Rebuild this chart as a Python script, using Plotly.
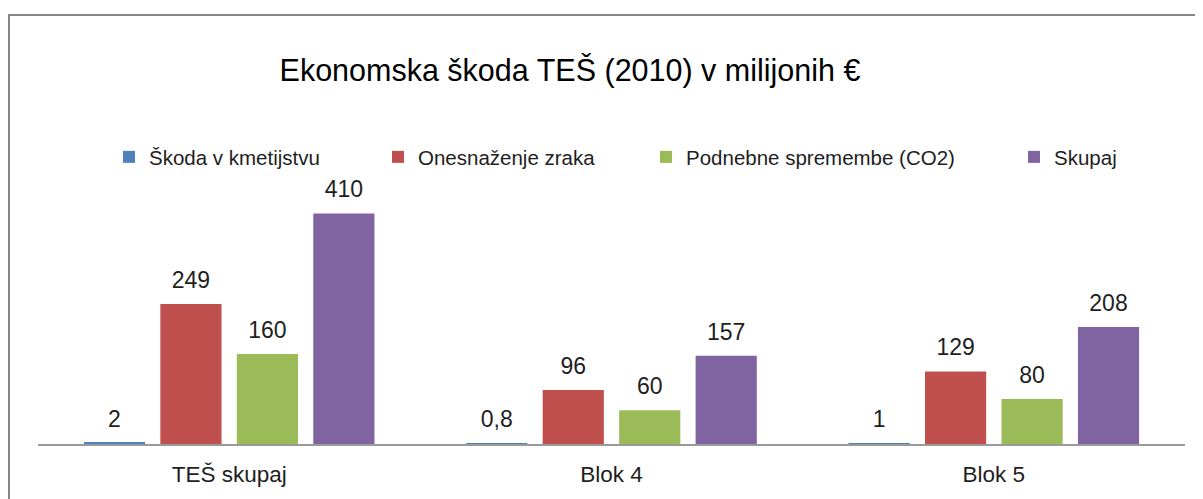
import plotly.graph_objects as go

categories = ["TEŠ skupaj", "Blok 4", "Blok 5"]
series_names = ["Škoda v kmetijstvu", "Onesnaženje zraka", "Podnebne spremembe (CO2)", "Skupaj"]
skoda_kmetijstvo = [2, 0.8, 1]
onesnazenje_zraka = [249, 96, 129]
podnebne_spremembe = [160, 60, 80]
skupaj = [410, 157, 208]
series_values = [skoda_kmetijstvo, onesnazenje_zraka, podnebne_spremembe, skupaj]
colors = ["#4F81BD", "#C0504D", "#9BBB59", "#8064A2"]
title_text = "Ekonomska škoda TEŠ (2010) v milijonih €"

FONT = "Liberation Sans, Arial, sans-serif"
TXT = "#1e1e1e"

def fmt(v):
    return ("%g" % v).replace(".", ",")

# figure geometry (pixels); the page body adds an 8px offset
W, H = 1195, 491
ML, MR, MT, MB = 30, 18, 155, 53
pw = W - ML - MR
ph = H - MT - MB
base_y = H - MB

legend_px = [101, 370, 638, 1006]  # left edges of legend boxes

fig = go.Figure()
for i, (name, vals, col) in enumerate(zip(series_names, series_values, colors)):
    lg = "legend" if i == 0 else f"legend{i+1}"
    fig.add_trace(go.Bar(
        x=categories, y=vals, name=name,
        marker=dict(color=col, line=dict(width=0)),
        offsetgroup=str(i), legend=lg,
        hoverinfo="skip",
    ))
for i, (name, vals, col) in enumerate(zip(series_names, series_values, colors)):
    fig.add_trace(go.Scatter(
        x=categories, y=vals, mode="markers+text",
        text=[fmt(v) for v in vals], textposition="top center",
        textfont=dict(family=FONT, size=23, color=TXT),
        marker=dict(size=15, opacity=0),
        offsetgroup=str(i), showlegend=False, hoverinfo="skip",
        cliponaxis=False,
    ))

legends = {}
for i, px in enumerate(legend_px):
    key = "legend" if i == 0 else f"legend{i+1}"
    legends[key] = dict(
        x=(px - ML) / pw, xanchor="left",
        y=(base_y - 149) / ph, yanchor="middle",
        orientation="h", bgcolor="rgba(0,0,0,0)",
        font=dict(family=FONT, size=20.5, color=TXT),
    )

fig.update_layout(
    width=W, height=H,
    margin=dict(l=ML, r=MR, t=MT, b=MB),
    paper_bgcolor="white", plot_bgcolor="white",
    barmode="group", bargap=0.20, bargroupgap=0.20,
    scattermode="group", scattergap=0.20,
    title=dict(text=title_text, x=562 / W, xanchor="center",
               y=1 - 62 / H, yanchor="middle", yref="container",
               font=dict(family=FONT, size=30.5, color="black")),
    xaxis=dict(showline=True, linecolor="#9a9a9a", linewidth=2,
               ticks="", showgrid=False, zeroline=False,
               tickfont=dict(family=FONT, size=22.5, color=TXT),
               ticklabelstandoff=9),
    yaxis=dict(visible=False, range=[0, 500], showgrid=False, zeroline=False),
    showlegend=True,
    **legends,
)

# outer chart border (extends beyond the visible window at right/bottom)
fig.add_shape(type="rect", xref="paper", yref="paper",
              x0=(1 - ML) / pw, x1=(W + 20 - ML) / pw,
              y0=(base_y - H - 20) / ph, y1=(base_y - 6) / ph,
              line=dict(color="#868686", width=2), fillcolor="rgba(0,0,0,0)",
              layer="below")

fig.write_html("out.html")
